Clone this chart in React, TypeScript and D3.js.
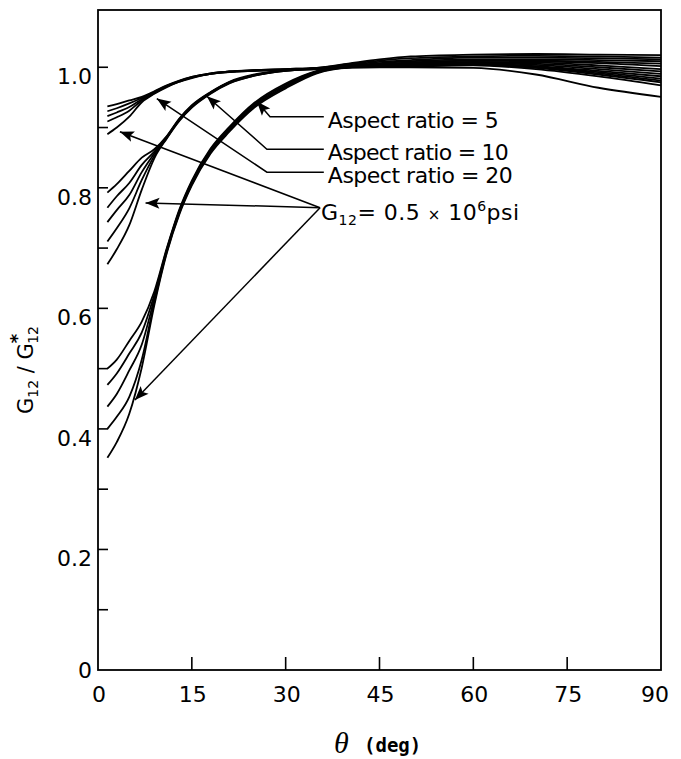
import React, { useEffect, useRef } from 'react';
import * as d3 from 'd3';

// Fiber angle (deg) where each curve was read
const THETA = [1.5, 3, 5, 7, 9, 11, 13, 15, 18, 21, 25, 30, 35, 40, 45, 50, 60, 70, 80, 90];

// Aspect ratio = 20 (top group)
const ar20a = [0.935, 0.939, 0.945, 0.951, 0.960, 0.970, 0.978, 0.984, 0.990, 0.993, 0.995, 0.997, 0.999, 1.006, 1.013, 1.018, 1.021, 1.022, 1.021, 1.020];
const ar20b = [0.927, 0.932, 0.940, 0.949, 0.959, 0.969, 0.977, 0.984, 0.990, 0.993, 0.995, 0.997, 0.999, 1.005, 1.011, 1.015, 1.018, 1.019, 1.018, 1.016];
const ar20c = [0.919, 0.925, 0.934, 0.947, 0.958, 0.969, 0.977, 0.983, 0.989, 0.993, 0.995, 0.996, 0.998, 1.004, 1.009, 1.012, 1.016, 1.016, 1.015, 1.013];
const ar20d = [0.910, 0.917, 0.928, 0.945, 0.957, 0.968, 0.976, 0.983, 0.989, 0.992, 0.994, 0.996, 0.998, 1.003, 1.007, 1.010, 1.013, 1.013, 1.012, 1.010];
const ar20e = [0.889, 0.900, 0.918, 0.942, 0.956, 0.967, 0.976, 0.982, 0.989, 0.992, 0.994, 0.996, 0.998, 1.002, 1.005, 1.008, 1.011, 1.011, 1.009, 1.006];

// Aspect ratio = 10 (middle group)
const ar10a = [0.792, 0.806, 0.828, 0.850, 0.864, 0.886, 0.915, 0.937, 0.959, 0.976, 0.988, 0.995, 0.998, 1.001, 1.004, 1.007, 1.011, 1.010, 1.007, 1.002];
const ar10b = [0.767, 0.786, 0.808, 0.838, 0.860, 0.885, 0.914, 0.936, 0.958, 0.975, 0.987, 0.995, 0.998, 1.001, 1.004, 1.006, 1.009, 1.008, 1.003, 0.997];
const ar10c = [0.743, 0.763, 0.788, 0.826, 0.857, 0.884, 0.913, 0.935, 0.958, 0.975, 0.987, 0.995, 0.998, 1.000, 1.003, 1.005, 1.008, 1.006, 1.000, 0.993];
const ar10d = [0.711, 0.733, 0.766, 0.813, 0.853, 0.883, 0.912, 0.934, 0.957, 0.974, 0.986, 0.994, 0.997, 1.000, 1.002, 1.004, 1.007, 1.004, 0.997, 0.989];
const ar10e = [0.673, 0.698, 0.738, 0.797, 0.849, 0.882, 0.911, 0.933, 0.956, 0.973, 0.986, 0.994, 0.997, 1.000, 1.002, 1.004, 1.006, 1.002, 0.994, 0.985];

// Aspect ratio = 5 (bottom group)
const ar5a = [0.500, 0.515, 0.546, 0.578, 0.628, 0.700, 0.764, 0.812, 0.865, 0.901, 0.941, 0.973, 0.994, 1.002, 1.004, 1.005, 1.006, 1.001, 0.992, 0.981];
const ar5b = [0.473, 0.492, 0.525, 0.560, 0.622, 0.698, 0.762, 0.810, 0.863, 0.899, 0.939, 0.971, 0.993, 1.001, 1.003, 1.004, 1.005, 1.000, 0.990, 0.978];
const ar5c = [0.437, 0.458, 0.497, 0.540, 0.616, 0.696, 0.760, 0.808, 0.861, 0.897, 0.937, 0.969, 0.992, 1.001, 1.003, 1.003, 1.004, 0.999, 0.988, 0.975];
const ar5d = [0.400, 0.420, 0.453, 0.515, 0.610, 0.694, 0.758, 0.806, 0.859, 0.895, 0.935, 0.967, 0.991, 1.000, 1.002, 1.002, 1.003, 0.997, 0.985, 0.970];
const ar5e = [0.352, 0.378, 0.425, 0.502, 0.605, 0.692, 0.756, 0.804, 0.857, 0.893, 0.933, 0.965, 0.990, 0.999, 1.000, 1.000, 0.999, 0.988, 0.966, 0.951];

const SERIES = [ar20a, ar20b, ar20c, ar20d, ar20e, ar10a, ar10b, ar10c, ar10d, ar10e, ar5a, ar5b, ar5c, ar5d, ar5e];

const X_TICKS = [0, 15, 30, 45, 60, 75, 90];
const Y_MAJOR = [0, 0.2, 0.4, 0.6, 0.8, 1.0];
const Y_MINOR = [0.1, 0.3, 0.5, 0.7, 0.9];

// Callouts, in data units: [theta, value]
const ASPECT_LABELS = ['Aspect ratio = 5', 'Aspect ratio = 10', 'Aspect ratio = 20'];
const ASPECT_WIDTHS = [171, 181, 185];
const ASPECT_TIPS = [[25.4, 0.943], [17.4, 0.952], [9.4, 0.948]];
const ASPECT_ELBOWS = [[27.5, 0.918], [27.0, 0.864], [27.0, 0.826]];
const LEADER_END = 36.1;
const G12_JOIN = [35.5, 0.767];
const G12_TIPS = [[3.5, 0.893], [7.6, 0.775], [5.9, 0.448]];

const W = 681;
const H = 759;

export default function App() {
  const svgRef = useRef<SVGSVGElement>(null);

  useEffect(() => {
    if (!svgRef.current) return;
    const svg = d3.select(svgRef.current);
    svg.selectAll('*').remove();

    const x = d3.scaleLinear().domain([0, 90]).range([98, 661]);
    const y = d3.scaleLinear().domain([0, 1.095]).range([670, 10]);
    const font = 'DejaVu Sans, sans-serif';

    // frame
    svg
      .append('rect')
      .attr('x', x(0))
      .attr('y', y(1.095))
      .attr('width', x(90) - x(0))
      .attr('height', y(0) - y(1.095))
      .attr('fill', 'none')
      .attr('stroke', '#000')
      .attr('stroke-width', 1.8);

    // ticks, drawn inward
    const ticks = svg.append('g').attr('stroke', '#000').attr('stroke-width', 1.6);
    ticks
      .selectAll('line.y')
      .data([...Y_MAJOR.slice(1), ...Y_MINOR])
      .join('line')
      .attr('x1', x(0))
      .attr('x2', x(0) + 10)
      .attr('y1', d => y(d))
      .attr('y2', d => y(d));
    ticks
      .selectAll('line.x')
      .data(X_TICKS.slice(1, -1))
      .join('line')
      .attr('x1', d => x(d))
      .attr('x2', d => x(d))
      .attr('y1', y(0))
      .attr('y2', y(0) - 13);

    svg
      .append('g')
      .style('font', `22px ${font}`)
      .attr('text-anchor', 'end')
      .selectAll('text')
      .data(Y_MAJOR)
      .join('text')
      .attr('x', 92)
      .attr('y', d => y(d) + (d === 0 ? 8 : 17))
      .text(d => (d === 0 ? '0' : d.toFixed(1)));

    svg
      .append('g')
      .style('font', `22px ${font}`)
      .attr('text-anchor', 'middle')
      .selectAll('text')
      .data(X_TICKS)
      .join('text')
      .attr('x', d => x(d) + (d === 90 ? -6 : 1))
      .attr('y', 702)
      .text(d => String(d));

    // curves
    const line = d3
      .line<number>()
      .x((_, i) => x(THETA[i]))
      .y(d => y(d))
      .curve(d3.curveMonotoneX);

    svg
      .append('g')
      .attr('fill', 'none')
      .attr('stroke', '#000')
      .attr('stroke-width', 1.8)
      .selectAll('path')
      .data(SERIES)
      .join('path')
      .attr('d', d => line(d));

    // arrows
    const arrowHead = (from: number[], tip: number[]) => {
      const fx = x(from[0]);
      const fy = y(from[1]);
      const tx = x(tip[0]);
      const ty = y(tip[1]);
      const len = Math.hypot(tx - fx, ty - fy);
      const ux = (tx - fx) / len;
      const uy = (ty - fy) / len;
      const L = 14;
      const Wd = 5.5;
      const bx = tx - ux * L;
      const by = ty - uy * L;
      svg
        .append('path')
        .attr('d', `M${tx},${ty}L${bx - uy * Wd},${by + ux * Wd}L${bx + ux * 3},${by + uy * 3}L${bx + uy * Wd},${by - ux * Wd}Z`)
        .attr('fill', '#000');
    };

    const leaders = svg.append('g').attr('fill', 'none').attr('stroke', '#000').attr('stroke-width', 1.5);
    ASPECT_LABELS.forEach((label, i) => {
      const tip = ASPECT_TIPS[i];
      const elbow = ASPECT_ELBOWS[i];
      leaders
        .append('path')
        .attr('d', `M${x(tip[0])},${y(tip[1])}L${x(elbow[0])},${y(elbow[1])}L${x(LEADER_END)},${y(elbow[1])}`);
      arrowHead(elbow, tip);
      svg
        .append('text')
        .attr('x', x(LEADER_END) + 4)
        .attr('y', y(elbow[1]) + 11)
        .attr('textLength', ASPECT_WIDTHS[i])
        .attr('lengthAdjust', 'spacing')
        .style('font', `22px ${font}`)
        .text(label);
    });

    G12_TIPS.forEach(tip => {
      leaders
        .append('line')
        .attr('x1', x(G12_JOIN[0]))
        .attr('y1', y(G12_JOIN[1]))
        .attr('x2', x(tip[0]))
        .attr('y2', y(tip[1]));
      arrowHead(G12_JOIN, tip);
    });

    const g12 = svg
      .append('text')
      .attr('x', x(G12_JOIN[0]) + 1)
      .attr('y', y(G12_JOIN[1]) + 12)
      .attr('textLength', 198)
      .attr('lengthAdjust', 'spacing')
      .style('font', `22px ${font}`);
    g12.append('tspan').text('G');
    g12.append('tspan').attr('dy', 5).style('font-size', '14px').text('12');
    g12.append('tspan').attr('dy', -5).text('= 0.5 ');
    g12.append('tspan').style('font-size', '15px').text('×');
    g12.append('tspan').text(' 10');
    g12.append('tspan').attr('dy', -9).style('font-size', '14px').text('6');
    g12.append('tspan').attr('dy', 9).text('psi');

    // axis titles
    const yt = svg
      .append('text')
      .attr('transform', 'translate(33,370) rotate(-90)')
      .attr('text-anchor', 'middle')
      .style('font', `21px ${font}`);
    yt.append('tspan').text('G');
    yt.append('tspan').attr('dy', 5).style('font-size', '14px').text('12');
    yt.append('tspan').attr('dy', -5).text(' / G');
    yt.append('tspan').attr('dy', -10).style('font-size', '18px').style('font-weight', 'bold').text('*');
    yt.append('tspan').attr('dx', -10).attr('dy', 15).style('font-size', '14px').text('12');

    const xt = svg.append('text').attr('y', 753);
    xt.append('tspan').attr('x', 334).style('font', 'italic 30px Liberation Serif, serif').text('θ');
    xt.append('tspan').attr('x', 364).attr('dy', -1).style('font', `bold 19px DejaVu Sans Mono, monospace`).text('(deg)');
  }, []);

  return (
    <svg
      ref={svgRef}
      width={W}
      height={H}
      style={{ position: 'absolute', left: 0, top: 0, background: '#fff' }}
    />
  );
}
